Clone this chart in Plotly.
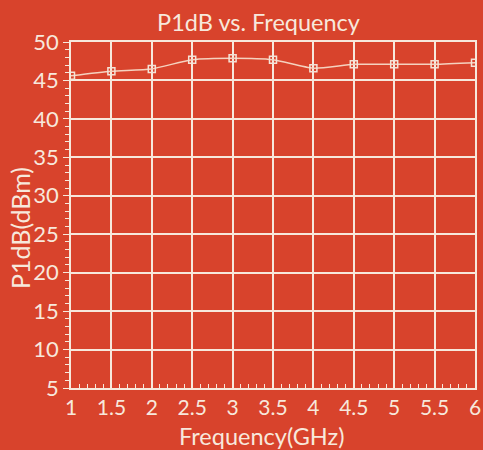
import plotly.graph_objects as go

freq = [1, 1.5, 2, 2.5, 3, 3.5, 4, 4.5, 5, 5.5, 6]
p1db = [45.6, 46.2, 46.5, 47.7, 47.9, 47.7, 46.6, 47.1, 47.1, 47.1, 47.3]
x_ticks = [1, 1.5, 2, 2.5, 3, 3.5, 4, 4.5, 5, 5.5, 6]
x_labels = ["1", "1.5", "2", "2.5", "3", "3.5", "4", "4.5", "5", "5.5", "6"]
y_ticks = [5, 10, 15, 20, 25, 30, 35, 40, 45, 50]

bg = "#D8432C"
fg = "#F7E8DC"
font = "Lato"

L, R, T, B = 71, 8, 42, 62
W, H = 483, 450
pw, ph = W - L - R, H - T - B

fig = go.Figure()
fig.add_trace(go.Scatter(
    x=freq, y=p1db, mode="lines+markers",
    line=dict(color="#F5D2BF", width=1.5, shape="spline", smoothing=0.6),
    marker=dict(symbol="square-open", size=7, color="#F4E2D6", line=dict(width=1.5)),
    showlegend=False,
))

fig.update_layout(
    width=W, height=H,
    paper_bgcolor=bg, plot_bgcolor=bg,
    margin=dict(l=L, r=R, t=T, b=B),
    title=dict(text="P1dB vs. Frequency", x=(157 + 360) / 2 / W, xanchor="center",
               xref="container", y=1 - 23 / H, yanchor="middle",
               font=dict(family=font, size=23.5, color=fg)),
    font=dict(family=font, color=fg),
    annotations=[
        dict(text="Frequency(GHz)", xref="paper", yref="paper",
             x=(261 - L) / pw, y=-(436 - (H - B)) / ph, xanchor="center", yanchor="middle",
             showarrow=False, font=dict(family=font, size=23.5, color=fg)),
        dict(text="P1dB(dBm)", xref="paper", yref="paper", textangle=-90,
             x=(20 - L) / pw, y=((H - B) - 228) / ph, xanchor="center", yanchor="middle",
             showarrow=False, font=dict(family=font, size=25, color=fg)),
    ],
)
fig.update_xaxes(
    range=[1, 6], tickvals=x_ticks, ticktext=x_labels, automargin=False,
    showgrid=True, gridcolor=fg, gridwidth=1.5,
    showline=True, linecolor=fg, linewidth=1.5, mirror=True,
    ticks="inside", ticklen=6, tickcolor=fg,
    minor=dict(dtick=0.1, ticks="inside", ticklen=4, tickcolor=fg, showgrid=False),
    tickfont=dict(family=font, size=21, color=fg),
    zeroline=False,
)
fig.update_yaxes(
    range=[5, 50], tickvals=y_ticks, automargin=False,
    showgrid=True, gridcolor=fg, gridwidth=1.5,
    showline=True, linecolor=fg, linewidth=1.5, mirror=True,
    ticks="outside", ticklen=6, tickcolor=fg,
    minor=dict(dtick=1, ticks="outside", ticklen=4, tickcolor=fg, showgrid=False),
    tickfont=dict(family=font, size=22, color=fg),
    zeroline=False,
)

fig.write_html(
    "out.html",
    config={"displayModeBar": False},
    post_script="document.body.style.margin='0';document.body.style.background='%s';" % bg,
)
